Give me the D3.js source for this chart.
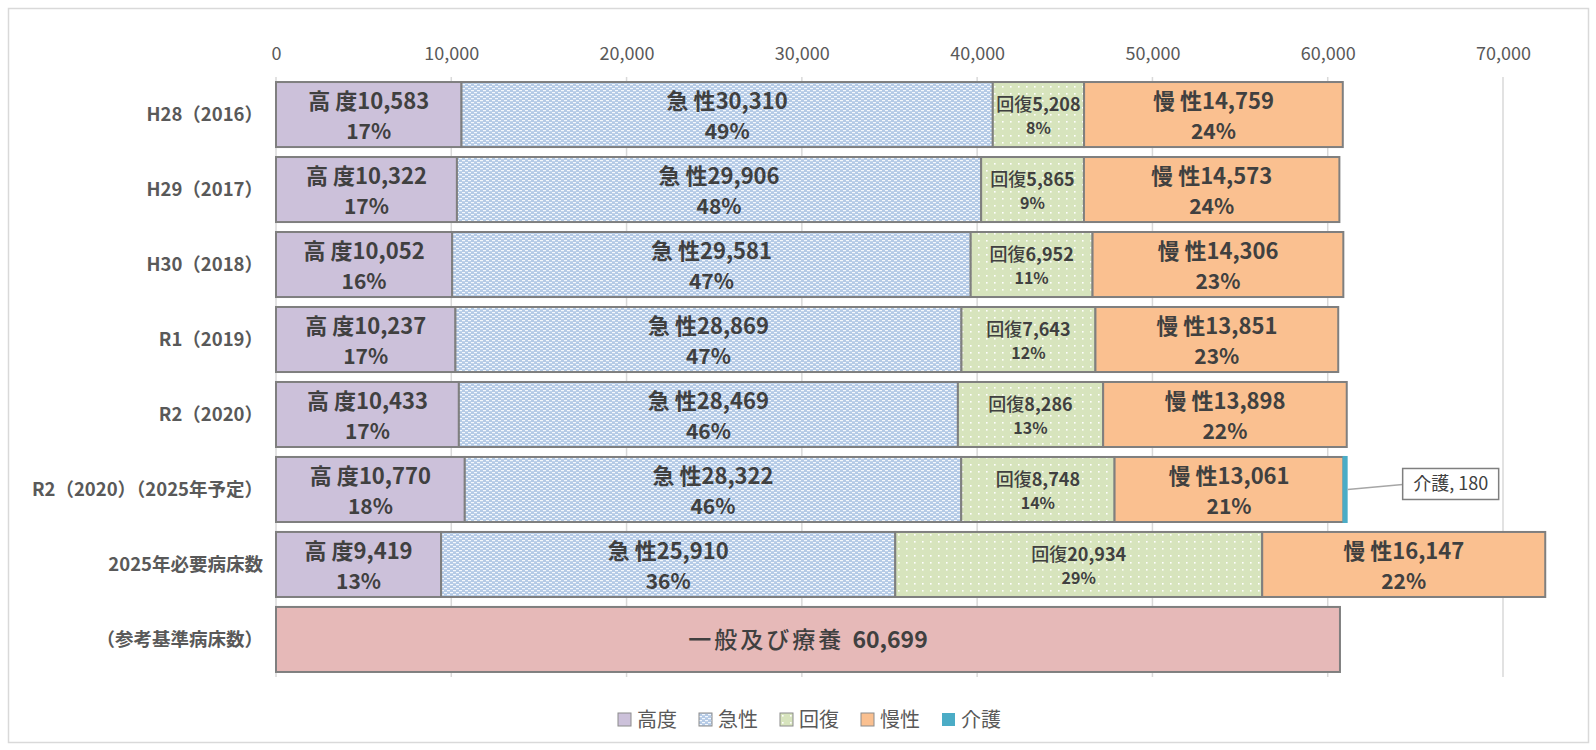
<!DOCTYPE html>
<html>
<head>
<meta charset="utf-8">
<script src="https://cdn.jsdelivr.net/npm/d3@7"></script>
<style>
  body { margin: 0; background: #fff; }
  text { font-family: "Noto Sans CJK JP", "Noto Sans", sans-serif; }
</style>
</head>
<body>
<div id="chart_div"></div>
<script>
// data
categories = ['H28（2016）', 'H29（2017）', 'H30（2018）', 'R1（2019）', 'R2（2020）',
              'R2（2020）（2025年予定）', '2025年必要病床数', '（参考基準病床数）'];
koudo   = [10583, 10322, 10052, 10237, 10433, 10770, 9419, 0];
kyusei  = [30310, 29906, 29581, 28869, 28469, 28322, 25910, 0];
kaifuku = [5208, 5865, 6952, 7643, 8286, 8748, 20934, 0];
mansei  = [14759, 14573, 14306, 13851, 13898, 13061, 16147, 0];
kaigo   = [0, 0, 0, 0, 0, 180, 0, 0];
ippan   = [0, 0, 0, 0, 0, 0, 0, 60699];

koudo_pct   = [17, 17, 16, 17, 17, 18, 13];
kyusei_pct  = [49, 48, 47, 47, 46, 46, 36];
kaifuku_pct = [8, 9, 11, 12, 13, 14, 29];
mansei_pct  = [24, 24, 23, 23, 22, 21, 22];

tick_vals = [0, 10000, 20000, 30000, 40000, 50000, 60000, 70000];

series_keys  = ['高度', '急性', '回復', '慢性', '介護', '一般及び療養'];
series_vals  = [koudo, kyusei, kaifuku, mansei, kaigo, ippan];
series_pct   = [koudo_pct, kyusei_pct, kaifuku_pct, mansei_pct, null, null];
legend_keys  = ['高度', '急性', '回復', '慢性', '介護'];

fill_of = {
  '高度': '#CCC1DA',
  '急性': 'url(#pat_kyusei)',
  '回復': 'url(#pat_kaifuku)',
  '慢性': '#FAC090',
  '介護': '#4BACC6',
  '一般及び療養': '#E6B9B8'
};

W = 1596;
H = 750;

table = categories.map(function (c, i) {
  var row = {cat: c};
  series_keys.forEach(function (k, j) { row[k] = series_vals[j][i]; });
  return row;
});

stacked = d3.stack().keys(series_keys)(table);

x = d3.scaleLinear().domain([0, 70000]).range([276, 1503]);
y = d3.scaleBand().domain(categories).range([77, 677])
      .paddingInner(0.133).paddingOuter(0.067);

svg = d3.select('#chart_div')
  .append('svg')
  .attr('width', W)
  .attr('height', H)
  .attr('display', 'block');

// patterns for 急性 / 回復
defs = svg.append('defs');
p1 = defs.append('pattern')
  .attr('id', 'pat_kyusei')
  .attr('patternUnits', 'userSpaceOnUse')
  .attr('width', 6).attr('height', 4);
p1.append('rect').attr('width', 6).attr('height', 4).attr('fill', '#B4CAE6');
p1.append('rect').attr('x', 0).attr('y', 0).attr('width', 3).attr('height', 1.2).attr('fill', '#F4F8FD');
p1.append('rect').attr('x', 3).attr('y', 2).attr('width', 3).attr('height', 1.2).attr('fill', '#F4F8FD');

p2 = defs.append('pattern')
  .attr('id', 'pat_kaifuku')
  .attr('patternUnits', 'userSpaceOnUse')
  .attr('width', 8).attr('height', 7);
p2.append('rect').attr('width', 8).attr('height', 7).attr('fill', '#D7E4BD');
p2.append('rect').attr('x', 2).attr('y', 2).attr('width', 1.6).attr('height', 1.6).attr('fill', '#FFFFFF');

// outer frame
svg.append('rect')
  .attr('x', 8.5).attr('y', 8.5)
  .attr('width', 1580).attr('height', 734)
  .attr('fill', 'none')
  .attr('stroke', '#D9D9D9')
  .attr('stroke-width', 1.5);

// gridlines
svg.append('g')
  .selectAll('line')
  .data(tick_vals)
  .enter()
  .append('line')
  .attr('x1', function (d) { return x(d); })
  .attr('x2', function (d) { return x(d); })
  .attr('y1', 77)
  .attr('y2', 677)
  .attr('stroke', '#D9D9D9')
  .attr('stroke-width', 1.5);

// top axis
ax = svg.append('g')
  .attr('transform', 'translate(0,60)')
  .call(d3.axisTop(x).tickValues(tick_vals).tickFormat(d3.format(',')).tickSize(0).tickPadding(0));
ax.select('.domain').remove();
ax.selectAll('text')
  .attr('fill', '#595959')
  .attr('font-size', '18px')
  .attr('font-family', '"Noto Sans CJK JP", sans-serif');

// category labels
svg.append('g')
  .selectAll('text')
  .data(categories)
  .enter()
  .append('text')
  .attr('x', 263)
  .attr('y', function (d) { return y(d) + y.bandwidth() / 2; })
  .attr('dy', '0.35em')
  .attr('text-anchor', 'end')
  .attr('font-size', '18.5px')
  .attr('font-weight', 'bold')
  .attr('fill', '#595959')
  .text(function (d) { return d; });

// bars
layers = svg.append('g')
  .selectAll('g')
  .data(stacked)
  .enter()
  .append('g')
  .attr('fill', function (d) { return fill_of[d.key]; });

layers.selectAll('rect')
  .data(function (d) { return d.filter(function (s) { return s[1] - s[0] > 0; }); })
  .enter()
  .append('rect')
  .attr('x', function (d) { return x(d[0]); })
  .attr('y', function (d) { return y(d.data.cat); })
  .attr('width', function (d) { return x(d[1]) - x(d[0]); })
  .attr('height', y.bandwidth())
  .attr('stroke', function (d) { return d.data['介護'] > 0 && d[1] - d[0] === d.data['介護'] ? '#4BACC6' : '#7F7F7F'; })
  .attr('stroke-width', 2);

// segment labels
stacked.forEach(function (layer, j) {
  if (!series_pct[j]) return;
  var small = layer.key === '回復';
  var g = svg.append('g');
  layer.forEach(function (s, i) {
    if (s[1] - s[0] <= 0) return;
    var cx = (x(s[0]) + x(s[1])) / 2;
    var cy = y(s.data.cat) + y.bandwidth() / 2;
    var t1 = g.append('text')
      .attr('x', cx)
      .attr('y', cy + (small ? -10 : -13))
      .attr('dy', '0.36em')
      .attr('text-anchor', 'middle')
      .attr('font-size', small ? '18px' : '22px')
      .attr('font-weight', 'bold')
      .attr('fill', '#404040');
    var nm = layer.key;
    if (small) {
      t1.append('tspan').attr('font-weight', 500).text(nm);
      t1.append('tspan').text(d3.format(',')(series_vals[j][i]));
    } else {
      t1.append('tspan').text(nm[0]);
      t1.append('tspan').attr('dx', 5).text(nm[1]);
      t1.append('tspan').text(d3.format(',')(series_vals[j][i]));
    }
    g.append('text')
      .attr('x', cx)
      .attr('y', cy + (small ? 13.5 : 17))
      .attr('dy', '0.36em')
      .attr('text-anchor', 'middle')
      .attr('font-size', small ? '16px' : '21px')
      .attr('font-weight', 'bold')
      .attr('fill', '#404040')
      .text(series_pct[j][i] + '%');
  });
});

// 一般及び療養 label
ref_cat = categories[7];
ref_t = svg.append('text')
  .attr('x', (x(0) + x(ippan[7])) / 2)
  .attr('y', y(ref_cat) + y.bandwidth() / 2)
  .attr('dy', '0.36em')
  .attr('text-anchor', 'middle')
  .attr('font-size', '23px')
  .attr('fill', '#404040');
ref_t.append('tspan').attr('font-weight', 500).attr('letter-spacing', '3px').text('一般及び療養 ');
ref_t.append('tspan').attr('font-weight', 'bold').text(' ' + d3.format(',')(ippan[7]));

// 介護 callout
kg_i = 5;
kg_end = koudo[kg_i] + kyusei[kg_i] + kaifuku[kg_i] + mansei[kg_i] + kaigo[kg_i];
kg_y = y(categories[kg_i]) + y.bandwidth() / 2;
svg.append('line')
  .attr('x1', x(kg_end) + 1)
  .attr('y1', kg_y)
  .attr('x2', x(kg_end) + 56)
  .attr('y2', kg_y - 5)
  .attr('stroke', '#A6A6A6')
  .attr('stroke-width', 1.5);
svg.append('rect')
  .attr('x', x(kg_end) + 56)
  .attr('y', kg_y - 21)
  .attr('width', 96)
  .attr('height', 31)
  .attr('fill', '#fff')
  .attr('stroke', '#7F7F7F')
  .attr('stroke-width', 1.5);
svg.append('text')
  .attr('x', x(kg_end) + 104)
  .attr('y', kg_y - 5.5)
  .attr('dy', '0.36em')
  .attr('text-anchor', 'middle')
  .attr('font-size', '18px')
  .attr('fill', '#404040')
  .text('介護, ' + kaigo[kg_i]);

// legend
leg = svg.append('g')
  .selectAll('g')
  .data(legend_keys)
  .enter()
  .append('g')
  .attr('transform', function (d, i) { return 'translate(' + (618 + i * 81) + ',720)'; });
leg.append('rect')
  .attr('x', 0).attr('y', -7)
  .attr('width', 13).attr('height', 13)
  .attr('fill', function (d) { return fill_of[d]; })
  .attr('stroke', function (d) { return d === '介護' ? 'none' : '#8C8C8C'; })
  .attr('stroke-width', 1);
leg.append('text')
  .attr('x', 19)
  .attr('y', 0)
  .attr('dy', '0.36em')
  .attr('font-size', '20px')
  .attr('fill', '#595959')
  .text(function (d) { return d; });
</script>
</body>
</html>
